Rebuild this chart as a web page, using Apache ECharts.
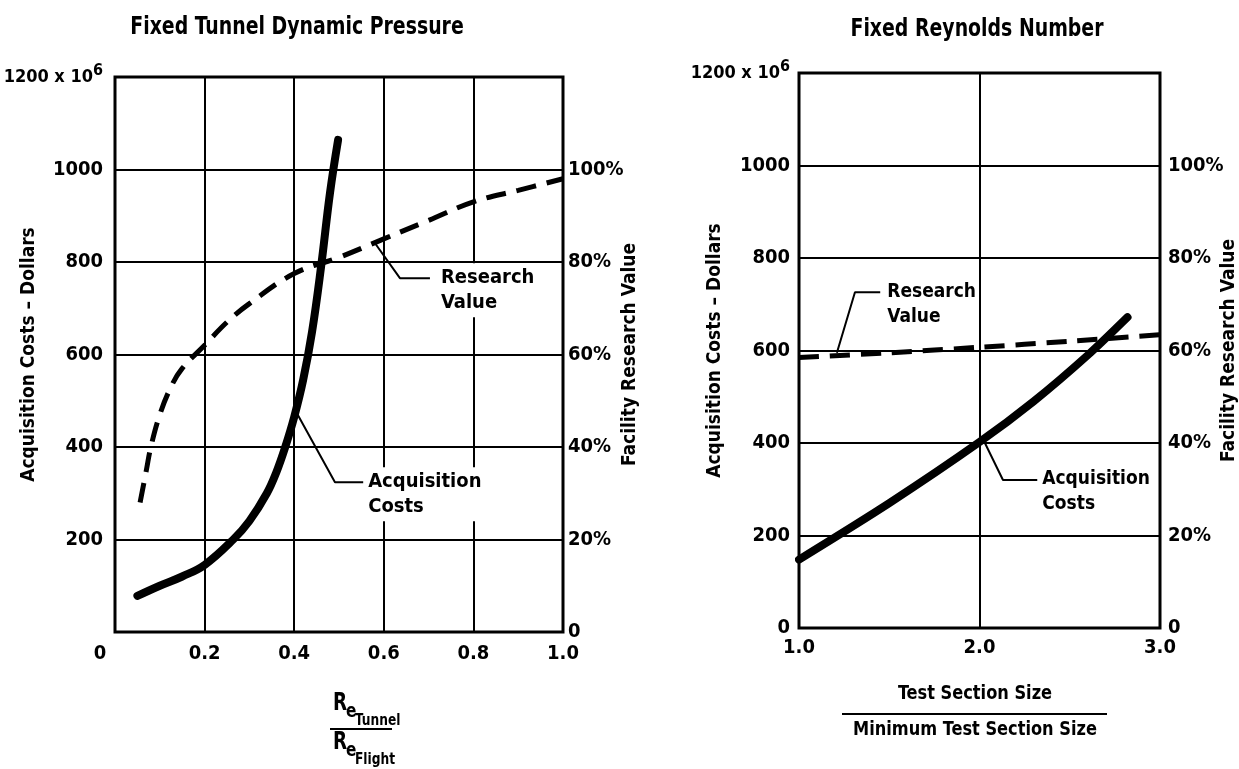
<!DOCTYPE html>
<html>
<head>
<meta charset="utf-8">
<script src="https://cdn.jsdelivr.net/npm/echarts@6/dist/echarts.min.js"></script>
<style>
  html, body { margin: 0; padding: 0; background: #fff; }
  #chart { width: 1239px; height: 769px; }
</style>
</head>
<body>
<div id="chart"></div>
<script>
// ---- Fixed tunnel dynamic pressure ----
const reRatio       = [0.05, 0.1, 0.15, 0.2, 0.264, 0.3, 0.339, 0.36, 0.38, 0.40, 0.42, 0.44, 0.46, 0.48, 0.498];
const reRatioCost   = [78, 100, 120, 145, 200, 240, 300, 345, 400, 465, 545, 650, 790, 950, 1064];
const reRatioValX   = [0.056, 0.07, 0.08, 0.1, 0.125, 0.15, 0.2, 0.25, 0.3, 0.4, 0.5, 0.6, 0.7, 0.8, 0.9, 1.0];
const reRatioValue  = [28, 35, 40, 47, 53, 57, 62, 67, 71, 77.5, 81, 85, 89, 93, 95.5, 98];

// ---- Fixed Reynolds number ----
const sizeRatio     = [1.0, 1.5, 2.0, 2.3, 2.6, 2.82];
const sizeRatioCost = [148, 270, 402, 490, 590, 672];
const sizeRatioValX = [1.0, 1.5, 2.0, 2.5, 3.0];
const sizeRatioValue= [58.5, 59.5, 60.7, 62, 63.4];

// tick labels
const tunnelTicksX  = ['0', '0.2', '0.4', '0.6', '0.8', '1.0'];
const sizeTicksX    = ['1.0', '2.0', '3.0'];

// callout leaders, in axis units: [x, y]
const tunnelValueLeader = [[0.58, 84.1], [0.636, 76.5], [0.703, 76.5]];
const tunnelCostLeader  = [[0.406, 473], [0.491, 324], [0.554, 324]];
const sizeValueLeader   = [[1.21, 59.5], [1.31, 72.6], [1.45, 72.6]];
const sizeCostLeader    = [[2.03, 400], [2.13, 320], [2.32, 320]];

const FONT = '"DejaVu Sans Condensed", "Liberation Sans Narrow", sans-serif';
const zip = (xs, ys) => xs.map((x, i) => [x, ys[i]]);

const chart = echarts.init(document.getElementById('chart'), null, { renderer: 'canvas' });

const labelBase = { color: '#000', fontFamily: FONT, fontWeight: 'bold', fontSize: 20 };

function costAxis(gridIndex, margin, gap, showZero) {
  return {
    type: 'value', gridIndex, min: 0, max: 1200, interval: 200, position: 'left',
    axisLine: { show: false }, axisTick: { show: false },
    splitLine: { show: true, lineStyle: { color: '#000', width: 2 } },
    axisLabel: Object.assign({}, labelBase, {
      margin,
      formatter: v => v === 1200 ? '{n|1200 x 10}{s|6}' : (v === 0 && !showZero ? '' : String(v)),
      rich: {
        n: { fontFamily: FONT, fontWeight: 'bold', fontSize: 18, color: '#000' },
        s: { fontFamily: FONT, fontWeight: 'bold', fontSize: 16, color: '#000', padding: [0, 0, 12, 0] }
      }
    }),
    name: 'Acquisition Costs – Dollars', nameLocation: 'middle', nameRotate: 90,
    nameGap: gap, nameMoveOverlap: false,
    nameTextStyle: Object.assign({}, labelBase, { fontSize: 19 })
  };
}
function valueAxis(gridIndex, gap, margin) {
  return {
    type: 'value', gridIndex, min: 0, max: 120, interval: 20, position: 'right',
    axisLine: { show: false }, axisTick: { show: false }, splitLine: { show: false },
    axisLabel: Object.assign({}, labelBase, {
      margin,
      formatter: v => v === 120 ? '' : (v === 0 ? '0' : v + '%')
    }),
    name: 'Facility Research Value', nameLocation: 'middle', nameRotate: 90,
    nameGap: gap, nameMoveOverlap: false,
    nameTextStyle: Object.assign({}, labelBase, { fontSize: 19 })
  };
}

function leader(xAxisIndex, yAxisIndex, pts, text, distance, size) {
  return {
    type: 'line', xAxisIndex, yAxisIndex, silent: true, z: 4,
    symbol: 'none', data: pts,
    lineStyle: { color: '#000', width: 2 },
    label: { show: false },
    endLabel: {
      show: true, formatter: text, distance, offset: [0, 12],
      color: '#000', fontFamily: FONT, fontWeight: 'bold', fontSize: size,
      lineHeight: 25, align: 'left', backgroundColor: '#fff', padding: [2, 0, 2, 2]
    }
  };
}

// condensed bold caption text
function caption(x, y, text, size, sx) {
  return { type: 'text', x, y, scaleX: sx, z: 10,
    style: { text, font: 'bold ' + size + 'px ' + FONT, fill: '#000', align: 'center', verticalAlign: 'middle' } };
}
function smallText(x, y, text, size, sx) {
  return { type: 'text', x, y, scaleX: sx, z: 10,
    style: { text, font: 'bold ' + size + 'px ' + FONT, fill: '#000', align: 'left', verticalAlign: 'middle' } };
}

const option = {
  backgroundColor: '#fff',
  animation: false,
  grid: [
    { left: 115, top: 77, width: 448, height: 555, show: true, borderColor: '#000', borderWidth: 3,
      backgroundColor: 'transparent', containLabel: false, outerBoundsMode: 'none' },
    { left: 799, top: 73, width: 361, height: 555, show: true, borderColor: '#000', borderWidth: 3,
      backgroundColor: 'transparent', containLabel: false, outerBoundsMode: 'none' }
  ],
  xAxis: [
    { type: 'value', gridIndex: 0, min: 0, max: 1, interval: 0.2,
      axisLine: { show: false }, axisTick: { show: false },
      splitLine: { show: true, lineStyle: { color: '#000', width: 2 } },
      axisLabel: Object.assign({}, labelBase, {
        margin: 12,
        formatter: v => {
          const i = Math.round(v / 0.2);
          return i === 0 ? '{z|' + tunnelTicksX[0] + '}' : tunnelTicksX[i];
        },
        rich: { z: { fontFamily: FONT, fontWeight: 'bold', fontSize: 20, color: '#000', padding: [0, 30, 0, 0] } }
      }) },
    { type: 'value', gridIndex: 1, min: 1, max: 3, interval: 1,
      axisLine: { show: false }, axisTick: { show: false },
      splitLine: { show: true, lineStyle: { color: '#000', width: 2 } },
      axisLabel: Object.assign({}, labelBase, {
        margin: 10,
        formatter: v => sizeTicksX[Math.round(v - 1)]
      }) }
  ],
  yAxis: [
    costAxis(0, 12, 76, false),
    valueAxis(0, 58, 5),
    costAxis(1, 9, 74, true),
    valueAxis(1, 60, 8)
  ],
  series: [
    { name: 'Acquisition Costs', type: 'line', xAxisIndex: 0, yAxisIndex: 0,
      data: zip(reRatio, reRatioCost), symbol: 'none', smooth: 0.4, z: 3,
      lineStyle: { color: '#000', width: 8, cap: 'round' } },
    { name: 'Research Value', type: 'line', xAxisIndex: 0, yAxisIndex: 1,
      data: zip(reRatioValX, reRatioValue), symbol: 'none', smooth: 0.4, z: 3,
      lineStyle: { color: '#000', width: 5, type: [20, 11] } },
    leader(0, 1, tunnelValueLeader, 'Research\nValue', 9, 20),
    leader(0, 0, tunnelCostLeader, 'Acquisition\nCosts', 3, 20),

    { name: 'Acquisition Costs', type: 'line', xAxisIndex: 1, yAxisIndex: 2,
      data: zip(sizeRatio, sizeRatioCost), symbol: 'none', smooth: 0.3, z: 3,
      lineStyle: { color: '#000', width: 8, cap: 'round' } },
    { name: 'Research Value', type: 'line', xAxisIndex: 1, yAxisIndex: 3,
      data: zip(sizeRatioValX, sizeRatioValue), symbol: 'none', smooth: 0.3, z: 3,
      lineStyle: { color: '#000', width: 5, type: [20, 11] } },
    leader(1, 3, sizeValueLeader, 'Research\nValue', 5, 19),
    leader(1, 2, sizeCostLeader, 'Acquisition\nCosts', 3, 19)
  ],
  graphic: [
    caption(297, 27, 'Fixed Tunnel Dynamic Pressure', 25, 0.84),
    caption(977, 29, 'Fixed Reynolds Number', 25, 0.84),
    // Re_tunnel / Re_flight
    smallText(333, 704, 'R', 24, 0.85),
    smallText(346, 712, 'e', 20, 0.85),
    smallText(355, 721, 'Tunnel', 16, 0.85),
    { type: 'line', shape: { x1: 330, y1: 729, x2: 392, y2: 729 }, style: { stroke: '#000', lineWidth: 2 } },
    smallText(333, 743, 'R', 24, 0.85),
    smallText(346, 751, 'e', 20, 0.85),
    smallText(355, 760, 'Flight', 16, 0.85),
    // test section size ratio
    caption(975, 694, 'Test Section Size', 20, 0.9),
    { type: 'line', shape: { x1: 842, y1: 714, x2: 1107, y2: 714 }, style: { stroke: '#000', lineWidth: 2 } },
    caption(975, 730, 'Minimum Test Section Size', 20, 0.9)
  ]
};

chart.setOption(option);
</script>
</body>
</html>
